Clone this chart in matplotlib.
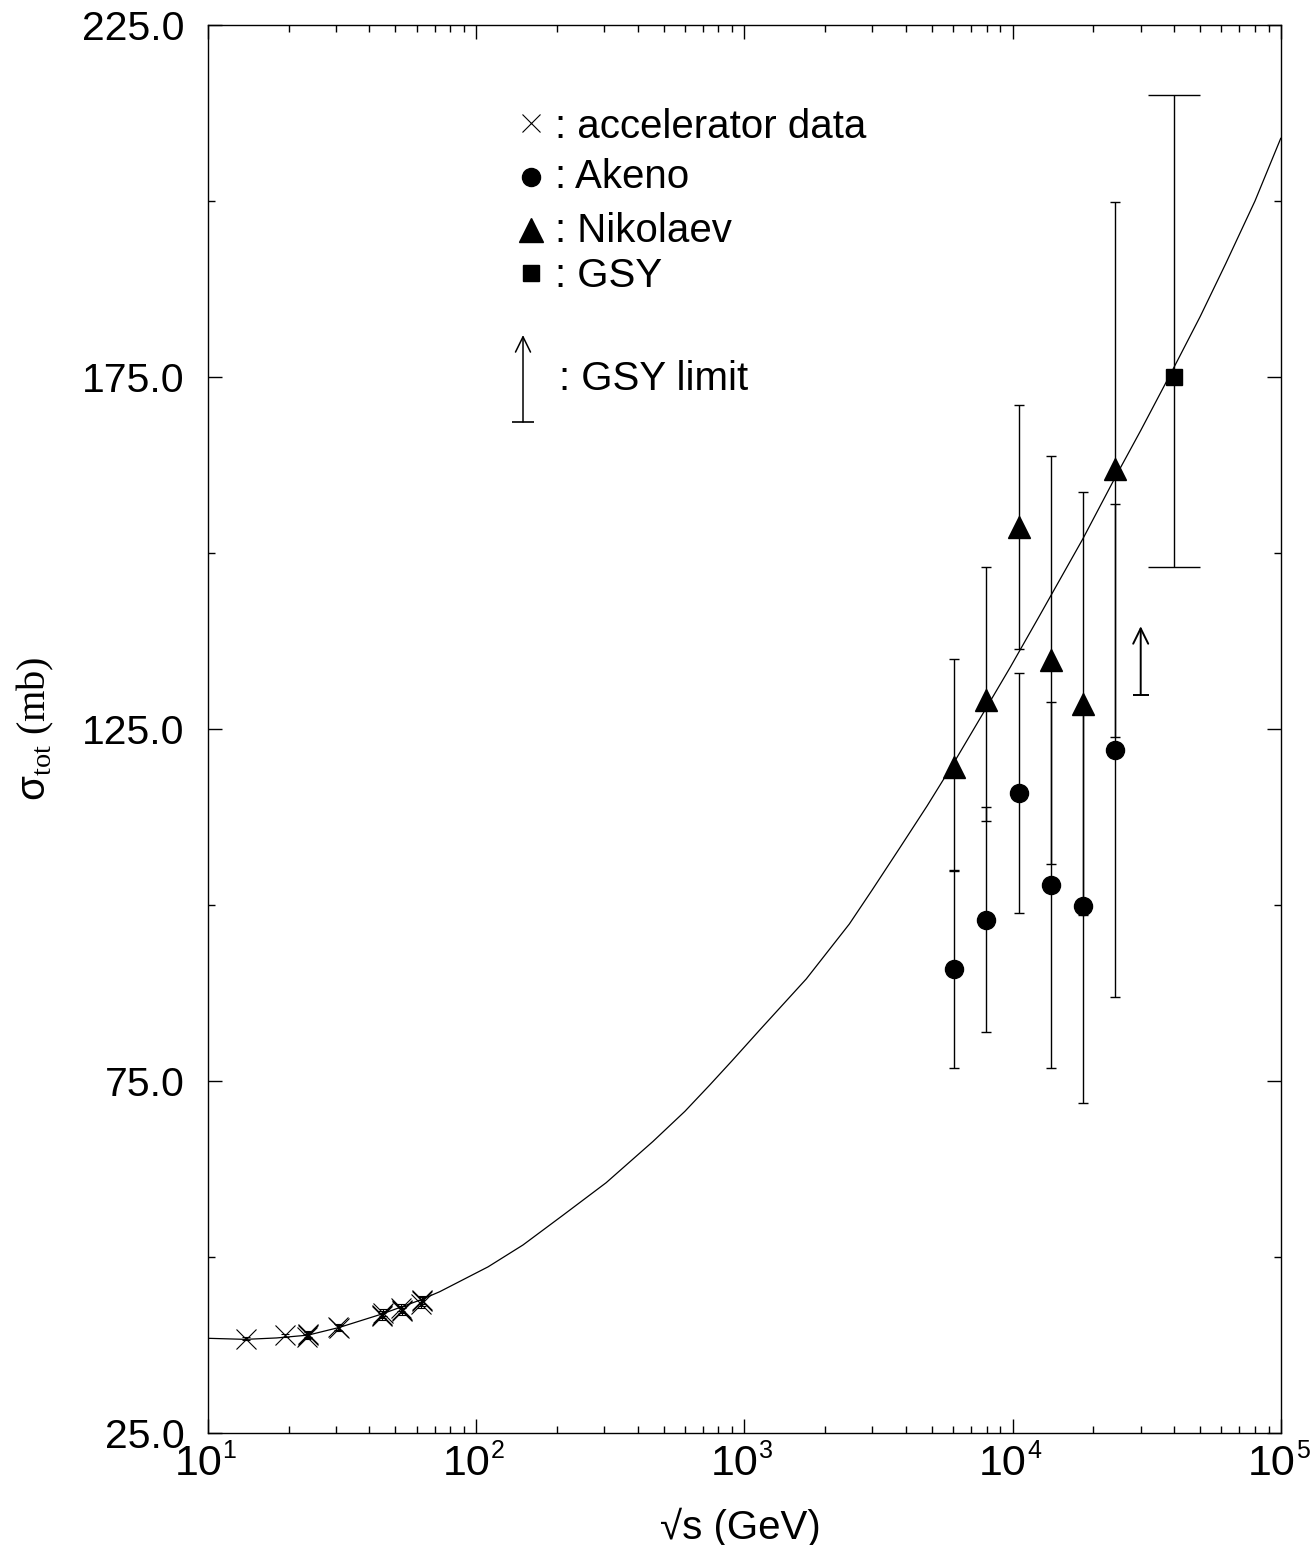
import matplotlib
matplotlib.use('Agg')
import matplotlib.pyplot as plt
from matplotlib.ticker import FixedLocator, FormatStrFormatter, LogLocator, NullFormatter

# fonts
plt.rcParams['font.family'] = ['Liberation Sans', 'DejaVu Sans']
plt.rcParams['mathtext.fontset'] = 'custom'
plt.rcParams['mathtext.rm'] = 'Liberation Serif'
plt.rcParams['mathtext.sf'] = 'Liberation Sans'

# accelerator data (pp)
acc_x = [13.8, 19.4, 23.5, 23.6, 23.4, 30.6, 30.8, 44.6, 44.8, 44.4, 52.8, 52.6, 53.0, 62.3, 62.6, 62.8]
acc_y = [38.4, 38.9, 38.9, 39.1, 38.7, 40.1, 39.9, 41.8, 42.1, 41.6, 42.5, 42.8, 42.3, 43.3, 43.7, 43.9]
acc_err = [0.2, 0.2, 0.4, 0.4, 0.4, 0.4, 0.4, 0.5, 0.5, 0.5, 0.5, 0.5, 0.5, 0.6, 0.6, 0.6]

# Akeno
ak_x = [6050, 7960, 10550, 13870, 18250, 24150]
ak_y = [90.9, 97.9, 115.9, 102.9, 99.9, 122.0]
ak_err = [14.0, 16.0, 17.0, 26.0, 28.0, 35.0]

# Nikolaev
nk_x = [6050, 7960, 10550, 13870, 18250, 24150]
nk_y = [119.6, 129.1, 153.7, 134.8, 128.6, 161.9]
nk_lo = [14.6, 17.2, 17.3, 29.0, 30.0, 38.0]
nk_hi = [15.3, 18.9, 17.3, 29.0, 30.0, 38.0]

# GSY
gsy_x = [4.0e4]
gsy_y = [175.0]
gsy_lo = [27.0]
gsy_hi = [40.0]

# GSY limit
lim_x = [3.0e4]
lim_lo = [129.9]
lim_hi = [139.6]

# fit curve
fit_x = [10, 13.8, 18, 23.6, 30.9, 44.5, 62, 73.1, 110.7, 149.3, 210, 305, 455.5, 600, 741,
         900, 1137, 1700, 2460, 3000, 3776, 4800, 6053, 7943, 9800, 12550, 18250, 24150,
         30000, 39950, 50000, 62230, 80000, 99800]
fit_y = [38.45, 38.3, 38.5, 38.9, 40.0, 41.9, 43.9, 45.07, 48.6, 51.7, 55.9, 60.55, 66.4, 70.7, 74.4,
         77.9, 82.2, 89.5, 97.3, 102.2, 108.0, 114.1, 120.3, 127.9, 133.8, 141.0, 152.0, 160.8,
         167.4, 176.4, 183.6, 191.1, 200.0, 208.9]

fig = plt.figure(figsize=(13.13, 15.45), dpi=100)
ax = fig.add_axes([0.1584, 0.0725, 0.8172, 0.9113])

ax.plot(fit_x, fit_y, color='k', lw=0.9)

ax.errorbar(acc_x, acc_y, yerr=acc_err, fmt='x', color='k', ms=14, mew=0.8,
            elinewidth=0.8, capsize=3)
ax.errorbar(ak_x, ak_y, yerr=ak_err, fmt='o', color='k', ms=13,
            elinewidth=1.0, capsize=3.6, capthick=1.0)
ax.errorbar(nk_x, nk_y, yerr=[nk_lo, nk_hi], fmt='^', color='k', ms=16,
            elinewidth=1.0, capsize=3.6, capthick=1.0)
ax.errorbar(gsy_x, gsy_y, yerr=[gsy_lo, gsy_hi], fmt='s', color='k', ms=12,
            elinewidth=1.0, capsize=18.5, capthick=1.0)

# GSY lower limit arrow
ax.plot(lim_x, lim_lo, marker='_', ms=12, mew=1.4, color='k', ls='none')
for xx, lo, hi in zip(lim_x, lim_lo, lim_hi):
    ax.annotate('', xy=(xx, hi), xytext=(xx, lo),
                arrowprops=dict(arrowstyle='->,head_length=0.55,head_width=0.27',
                                lw=1.4, color='k', shrinkA=0, shrinkB=0,
                                mutation_scale=20))

# axes
ax.set_xscale('log')
ax.set_xlim(10, 1e5)
ax.set_ylim(25, 225)
ax.yaxis.set_major_locator(FixedLocator([25, 75, 125, 175, 225]))
ax.yaxis.set_minor_locator(FixedLocator([50, 100, 150, 200]))
ax.yaxis.set_major_formatter(FormatStrFormatter('%.1f'))
ax.xaxis.set_major_locator(LogLocator(base=10))
ax.xaxis.set_minor_locator(LogLocator(base=10, subs=range(2, 10)))
ax.xaxis.set_major_formatter(NullFormatter())
ax.tick_params(which='both', direction='in', top=True, right=True, width=1)
ax.tick_params(which='major', length=10)
ax.tick_params(which='minor', length=5)
ax.tick_params(axis='y', labelsize=29.5, pad=17)
for s in ax.spines.values():
    s.set_linewidth(1.0)

# x tick labels 10^n, with a small exponent
for e in range(1, 6):
    ax.annotate('10', xy=(10.0**e, 0), xycoords=('data', 'axes fraction'),
                xytext=(-7, -8), textcoords='offset points', ha='center', va='top',
                fontsize=31)
    ax.annotate(str(e), xy=(10.0**e, 0), xycoords=('data', 'axes fraction'),
                xytext=(10.5, -4.5), textcoords='offset points', ha='left', va='top',
                fontsize=18)

ax.set_xlabel('√s (GeV)', fontsize=29)
ax.xaxis.set_label_coords(0.496, -0.053)
ax.set_ylabel(r'$\mathsf{\sigma}_{\mathrm{tot}}$ (mb)', fontsize=29, family='Liberation Serif')
ax.yaxis.set_label_coords(-0.142, 0.5)

# legend drawn by hand
tr = ax.transAxes
mx = 0.301
tx = 0.3234
ax.plot([mx], [0.9304], 'x', color='k', ms=13, mew=0.8, transform=tr)
ax.plot([mx], [0.8920], 'o', color='k', ms=13, transform=tr)
ax.plot([mx], [0.8544], '^', color='k', ms=17, transform=tr)
ax.plot([mx], [0.8239], 's', color='k', ms=12, transform=tr)
ax.text(tx, 0.9197, ': accelerator data', fontsize=29, transform=tr, va='baseline')
ax.text(tx, 0.8842, ': Akeno', fontsize=29, transform=tr, va='baseline')
ax.text(tx, 0.8459, ': Nikolaev', fontsize=29, transform=tr, va='baseline')
ax.text(tx, 0.8139, ': GSY', fontsize=29, transform=tr, va='baseline')
ax.text(0.3271, 0.7408, ': GSY limit', fontsize=29, transform=tr, va='baseline')
ax.plot([0.2936], [0.7180], '_', color='k', ms=16, mew=1.2, transform=tr)
ax.annotate('', xy=(0.2936, 0.7798), xytext=(0.2936, 0.7180), xycoords='axes fraction',
            arrowprops=dict(arrowstyle='->,head_length=0.55,head_width=0.27',
                            lw=1.1, color='k', shrinkA=0, shrinkB=0, mutation_scale=20))

fig.savefig('out.png', dpi=100)
